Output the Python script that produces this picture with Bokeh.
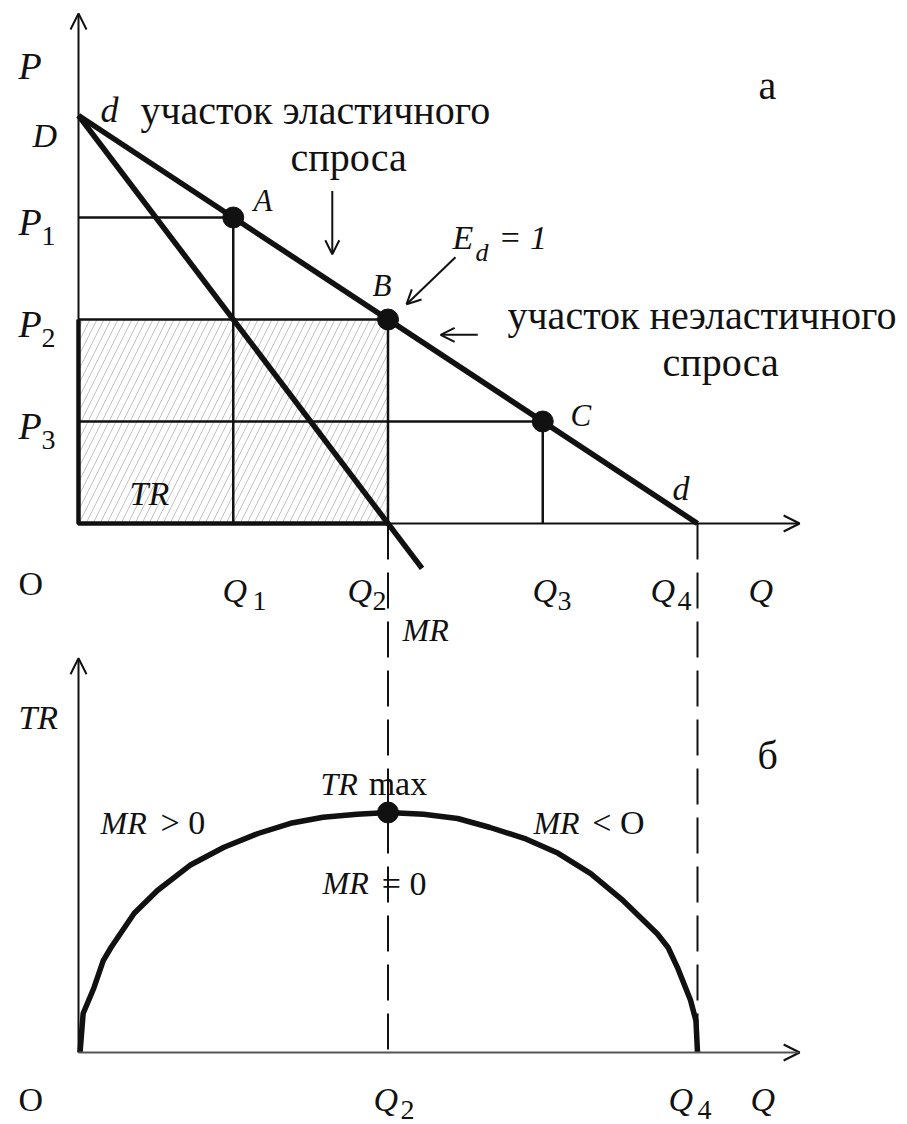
from bokeh.plotting import figure
from bokeh.models import Range1d, Arrow, OpenHead
from bokeh.core.properties import value
from bokeh.embed import file_html
from bokeh.resources import INLINE

# ---------------- data (economic units) ----------------
q_points = [1, 2, 3]            # Q1, Q2, Q3
p_points = [3, 2, 1]            # P1, P2, P3
point_names = ["A", "B", "C"]
demand_q = [0, 4]               # D ... Q4
demand_p = [4, 0]
mr_q = [0, 2.22]
mr_p = [4, -0.44]
q_ticks = [1, 2, 3, 4]
q_tick_subs = ["1", "2", "3", "4"]
p_tick_subs = ["1", "2", "3"]
tr_q = [0.01, 0.03, 0.10, 0.16, 0.21, 0.36, 0.51, 0.72, 0.94, 1.16, 1.37, 1.58, 1.80, 2.0,
        2.23, 2.45, 2.66, 2.88, 3.10, 3.31, 3.52, 3.74, 3.81, 3.87, 3.955, 3.99, 4.0]
tr_v = [0, 0.65, 1.08, 1.53, 1.75, 2.32, 2.70, 3.12, 3.42, 3.65, 3.82, 3.92, 3.97, 4.0,
        3.97, 3.90, 3.75, 3.57, 3.32, 2.98, 2.53, 1.98, 1.75, 1.42, 0.87, 0.53, 0]
tr_max_q = [2]
tr_max_v = [4]

# ---------------- layout ----------------
W, H = 907, 1124
QPX, PPX, TPX = 154.75, 102.0, 60.0   # pixels per unit
OX, OYP, OYT = 78, 523, 1052          # origins in page pixels
x_rng = Range1d((0 - OX) / QPX, (W - OX) / QPX)
y_rng = Range1d((OYP - H) / PPX, OYP / PPX)
t_rng = Range1d((OYT - H) / TPX, OYT / TPX)

p = figure(width=W, height=H, x_range=x_rng, y_range=y_rng,
           output_backend="svg", toolbar_location=None,
           x_axis_location=None, y_axis_location=None,
           min_border=0, outline_line_color=None, background_fill_color="white")
p.extra_y_ranges = {"tr": t_rng}
p.grid.visible = False

FONT = value("Liberation Serif")
INK = "#111111"


def p_to_t(pv):
    frac = (pv - y_rng.start) / (y_rng.end - y_rng.start)
    return t_rng.start + frac * (t_rng.end - t_rng.start)


def lbl(x, y, s, size, italic=False, align="left", rng="default"):
    p.text(x=[x], y=[y], text=[s], text_font=FONT, text_font_size=f"{size}px",
           text_font_style="italic" if italic else "normal", text_align=align,
           text_baseline="alphabetic", text_color=INK, y_range_name=rng)


def head(size=16):
    return OpenHead(size=size, line_width=2, line_color=INK)


# ---------------- upper panel ----------------
q2, p2 = q_points[1], p_points[1]
p.quad(left=[0], right=[q2], bottom=[0], top=[p2], fill_alpha=0, line_color=None,
       hatch_pattern="/", hatch_color="#c2c2c2", hatch_scale=14, hatch_weight=1)

# reference lines from points to axes
p.segment(x0=[0] * 3, y0=p_points, x1=q_points, y1=p_points, line_color=INK, line_width=2.5)
p.segment(x0=q_points, y0=[0] * 3, x1=q_points, y1=p_points, line_color=INK, line_width=2.5)

# axes
q_axis_end = 4.66
p_axis_end = 5.0
p.add_layout(Arrow(end=head(), x_start=0, y_start=0, x_end=0, y_end=p_axis_end,
                   line_width=2, line_color=INK))
p.add_layout(Arrow(end=head(), x_start=0, y_start=0, x_end=q_axis_end, y_end=0,
                   line_width=2, line_color=INK))
# TR rectangle thick edges
p.line(x=[0, 0, q2], y=[p2, 0, 0], line_color=INK, line_width=4.5)

# demand and MR
p.line(x=demand_q, y=demand_p, line_color=INK, line_width=5.5)
p.line(x=mr_q, y=mr_p, line_color=INK, line_width=5.5)
p.scatter(x=q_points, y=p_points, marker="circle", size=21, fill_color=INK, line_color=INK)

# dashed drop lines (Q2 and Q4) down to lower panel
t_top = p_to_t(0)
p.segment(x0=[q2, demand_q[1]], y0=[t_top] * 2, x1=[q2, demand_q[1]], y1=[0, 0],
          line_color=INK, line_width=2, line_dash="36 13", y_range_name="tr")

# annotation arrows
p.add_layout(Arrow(end=head(14), x_start=1.64, y_start=3.26, x_end=1.64, y_end=2.64,
                   line_width=2, line_color=INK))
p.add_layout(Arrow(end=head(14), x_start=2.436, y_start=2.61, x_end=2.12, y_end=2.15,
                   line_width=2, line_color=INK))
p.add_layout(Arrow(end=head(14), x_start=2.58, y_start=1.85, x_end=2.34, y_end=1.85,
                   line_width=2, line_color=INK))

# upper labels
lbl(-0.388, 4.49, "P", 38, True)
lbl(0.142, 4.05, "d", 36, True)
lbl(0.40, 4.05, "участок  эластичного", 40)
lbl(1.37, 3.59, "спроса", 40)
lbl(4.394, 4.294, "а", 40)
lbl(-0.297, 3.80, "D", 34, True)
for pv, s in zip(p_points, p_tick_subs):
    lbl(-0.388, pv - 0.045, "P", 38, True)
    lbl(-0.239, pv - 0.18, s, 28)
for qv, pv, s, dx, dy in zip(q_points, p_points, point_names, [0.131, -0.10, 0.18], [0.167, 0.333, 0.059]):
    lbl(qv + dx, pv + dy, s, 31, True)
lbl(2.417, 2.804, "E", 34, True)
lbl(2.565, 2.657, "d", 26, True)
lbl(2.714, 2.804, "= 1", 34, True)
lbl(5.35, 2.039, "участок  неэластичного", 40, align="right")
lbl(3.774, 1.578, "спроса", 40)
lbl(3.838, 0.343, "d", 34, True)
lbl(0.33, 0.294, "TR", 34, True)
lbl(-0.388, -0.588, "O", 34)
for qv, s, dq, ds in zip(q_ticks, q_tick_subs, [-0.07, -0.262, -0.066, -0.304], [0.124, -0.1, 0.095, -0.129]):
    lbl(qv + dq, -0.657, "Q", 34, True)
    lbl(qv + ds, -0.755, s, 28)
lbl(4.33, -0.657, "Q", 34, True)
lbl(2.094, -1.049, "MR", 32, True)

# ---------------- lower panel ----------------
tr_axis_end = 6.57
p.add_layout(Arrow(end=head(), x_start=0, y_start=0, x_end=0, y_end=tr_axis_end,
                   line_width=2, line_color=INK, y_range_name="tr"))
p.add_layout(Arrow(end=head(), x_start=0, y_start=0, x_end=q_axis_end, y_end=0,
                   line_width=2, line_color="#555555", y_range_name="tr"))
p.line(x=tr_q, y=tr_v, line_color=INK, line_width=5.5, y_range_name="tr")
p.scatter(x=tr_max_q, y=tr_max_v, marker="circle", size=21, fill_color=INK, line_color=INK,
          y_range_name="tr")

lbl(-0.388, 5.583, "TR", 34, True, rng="tr")
lbl(0.142, 3.833, "MR", 32, True, rng="tr")
lbl(0.53, 3.833, "> 0", 34, rng="tr")
lbl(1.564, 4.483, "TR", 32, True, rng="tr")
lbl(1.875, 4.483, "max", 34, rng="tr")
lbl(1.577, 2.817, "MR", 32, True, rng="tr")
lbl(1.96, 2.817, "= 0", 34, rng="tr")
lbl(2.94, 3.833, "MR", 32, True, rng="tr")
lbl(3.32, 3.833, "< O", 34, rng="tr")
lbl(4.388, 4.95, "б", 40, rng="tr")
lbl(-0.388, -0.78, "O", 34, rng="tr")
lbl(1.906, -0.78, "Q", 34, True, rng="tr")
lbl(2.08, -0.95, "2", 28, rng="tr")
lbl(3.813, -0.78, "Q", 34, True, rng="tr")
lbl(4.0, -0.95, "4", 28, rng="tr")
lbl(4.342, -0.78, "Q", 34, True, rng="tr")

open("out.html", "w").write(file_html(p, INLINE))
